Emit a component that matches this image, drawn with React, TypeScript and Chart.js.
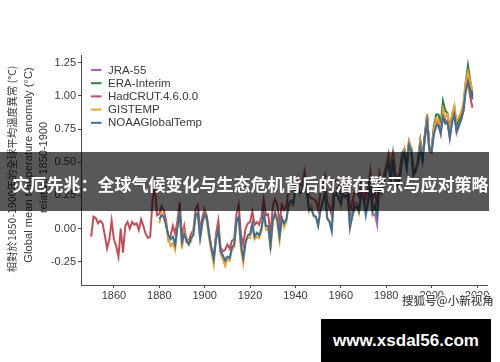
import React, { useEffect, useRef } from 'react';
import { Chart, registerables } from 'chart.js';

Chart.register(...registerables);

// ---- data (anomaly °C relative to 1850-1900) ----
const SERIES_LABELS = ['JRA-55', 'ERA-Interim', 'HadCRUT.4.6.0.0', 'GISTEMP', 'NOAAGlobalTemp'];
const SERIES_COLORS = ['#ad62b5', '#2e7b3a', '#c04e58', '#eaa23a', '#3e6e92'];
const SERIES_ORDER = [4, 3, 2, 1, 0];

const JRA55_START = 1958;
const JRA55 = [
  0.30, 0.31,
  0.24, 0.30, 0.28, 0.34, 0.08, 0.12, 0.20, 0.19, 0.16, 0.28,
  0.25, 0.14, 0.19, 0.33, 0.10, 0.11, 0.03, 0.36, 0.30, 0.38,
  0.46, 0.52, 0.36, 0.55, 0.38, 0.34, 0.40, 0.55, 0.56, 0.45,
  0.62, 0.58, 0.40, 0.43, 0.50, 0.64, 0.52, 0.69, 0.84, 0.58,
  0.57, 0.73, 0.79, 0.78, 0.71, 0.87, 0.81, 0.80, 0.68, 0.81,
  0.88, 0.72, 0.77, 0.84, 0.88, 1.06, 1.16, 1.06, 0.97,
];

const ERA_START = 1979;
const ERA_INTERIM = [
  0.40,
  0.46, 0.53, 0.38, 0.56, 0.40, 0.37, 0.42, 0.57, 0.60, 0.47,
  0.64, 0.61, 0.41, 0.45, 0.52, 0.66, 0.55, 0.70, 0.86, 0.60,
  0.60, 0.77, 0.86, 0.86, 0.79, 0.96, 0.89, 0.87, 0.75, 0.86,
  0.92, 0.78, 0.82, 0.87, 0.92, 1.10, 1.23, 1.12, 1.00,
];

const HADCRUT_START = 1850;
const HADCRUT = [
  -0.06, 0.09, 0.08, 0.04, 0.06, 0.04, -0.05, -0.15, -0.08, 0.06,
  -0.08, -0.13, -0.21, 0.00, -0.18, 0.02, 0.05, 0.00, 0.05, 0.03,
  0.04, -0.01, 0.07, 0.02, -0.04, -0.07, -0.06, 0.21, 0.33, 0.10,
  0.11, 0.17, 0.14, 0.06, -0.08, -0.05, 0.02, -0.04, 0.06, 0.20,
  -0.06, 0.02, -0.10, -0.09, -0.04, -0.01, 0.15, 0.18, -0.02, 0.09,
  0.15, 0.09, -0.04, -0.15, -0.21, -0.04, 0.06, -0.14, -0.17, -0.16,
  -0.12, -0.15, -0.09, -0.08, 0.11, 0.18, -0.05, -0.12, 0.00, 0.04,
  0.05, 0.13, 0.03, 0.05, 0.03, 0.09, 0.22, 0.10, 0.11, -0.05,
  0.17, 0.22, 0.18, 0.04, 0.18, 0.14, 0.17, 0.30, 0.31, 0.29,
  0.37, 0.35, 0.33, 0.33, 0.43, 0.32, 0.24, 0.23, 0.22, 0.21,
  0.14, 0.27, 0.32, 0.39, 0.20, 0.16, 0.10, 0.35, 0.36, 0.35,
  0.28, 0.36, 0.35, 0.37, 0.12, 0.20, 0.27, 0.28, 0.24, 0.36,
  0.31, 0.23, 0.31, 0.43, 0.22, 0.28, 0.18, 0.42, 0.35, 0.40,
  0.48, 0.56, 0.41, 0.59, 0.41, 0.38, 0.42, 0.54, 0.59, 0.48,
  0.66, 0.61, 0.43, 0.46, 0.50, 0.66, 0.53, 0.70, 0.85, 0.61,
  0.60, 0.75, 0.80, 0.81, 0.76, 0.86, 0.82, 0.80, 0.71, 0.82,
  0.87, 0.74, 0.78, 0.82, 0.89, 1.07, 1.11, 0.99, 0.91,
];

const GISTEMP_START = 1880;
const GISTEMP = [
  0.04, 0.12, 0.09, 0.03, -0.08, -0.13, -0.11, -0.16, 0.03, 0.10,
  -0.15, -0.02, -0.07, -0.11, -0.10, -0.02, 0.09, 0.09, -0.07, 0.03,
  0.12, 0.05, -0.08, -0.17, -0.27, -0.06, -0.02, -0.19, -0.23, -0.28,
  -0.23, -0.24, -0.16, -0.14, 0.05, 0.06, -0.16, -0.26, -0.09, -0.07,
  -0.07, 0.01, -0.08, -0.06, -0.07, -0.02, 0.10, -0.01, 0.00, -0.16,
  0.04, 0.11, 0.04, -0.09, 0.08, 0.01, 0.05, 0.18, 0.18, 0.17,
  0.32, 0.38, 0.26, 0.29, 0.40, 0.29, 0.13, 0.17, 0.09, 0.09,
  0.03, 0.13, 0.21, 0.28, 0.07, 0.06, 0.01, 0.25, 0.26, 0.23,
  0.17, 0.26, 0.23, 0.25, 0.00, 0.09, 0.14, 0.18, 0.12, 0.25,
  0.23, 0.12, 0.21, 0.36, 0.13, 0.19, 0.10, 0.38, 0.27, 0.36,
  0.46, 0.52, 0.34, 0.51, 0.36, 0.32, 0.38, 0.53, 0.60, 0.47,
  0.65, 0.61, 0.42, 0.44, 0.51, 0.65, 0.53, 0.66, 0.86, 0.58,
  0.59, 0.74, 0.83, 0.82, 0.73, 0.90, 0.84, 0.86, 0.74, 0.85,
  0.92, 0.81, 0.84, 0.88, 0.95, 1.10, 1.18, 1.11, 1.04,
];

const NOAA_START = 1880;
const NOAA = [
  0.07, 0.10, 0.09, 0.02, -0.05, -0.08, -0.06, -0.12, 0.01, 0.12,
  -0.10, -0.04, -0.09, -0.12, -0.07, -0.05, 0.10, 0.12, -0.07, 0.05,
  0.11, 0.07, -0.05, -0.15, -0.23, -0.08, -0.01, -0.17, -0.20, -0.24,
  -0.21, -0.22, -0.14, -0.12, 0.05, 0.09, -0.12, -0.22, -0.11, -0.05,
  -0.04, 0.04, -0.06, -0.03, -0.05, 0.00, 0.12, 0.02, 0.02, -0.13,
  0.06, 0.12, 0.07, -0.06, 0.08, 0.04, 0.07, 0.19, 0.21, 0.19,
  0.30, 0.34, 0.27, 0.28, 0.39, 0.27, 0.14, 0.15, 0.10, 0.09,
  0.02, 0.14, 0.20, 0.27, 0.08, 0.05, -0.02, 0.24, 0.27, 0.23,
  0.19, 0.26, 0.24, 0.26, 0.01, 0.09, 0.16, 0.17, 0.13, 0.27,
  0.22, 0.10, 0.20, 0.34, 0.13, 0.17, 0.09, 0.36, 0.28, 0.36,
  0.44, 0.50, 0.35, 0.52, 0.35, 0.32, 0.38, 0.52, 0.57, 0.46,
  0.63, 0.59, 0.41, 0.44, 0.49, 0.62, 0.51, 0.68, 0.80, 0.59,
  0.58, 0.71, 0.77, 0.78, 0.72, 0.84, 0.79, 0.80, 0.69, 0.80,
  0.86, 0.74, 0.78, 0.82, 0.89, 1.03, 1.10, 1.04, 0.98,
];

const X_TICKS = [1860, 1880, 1900, 1920, 1940, 1960, 1980, 2000, 2020];
const Y_TICKS = [-0.25, 0, 0.25, 0.5, 0.75, 1, 1.25];
const X_MIN = 1845.5;
const X_MAX = 2024.4;
const Y_MIN = -0.424;
const Y_MAX = 1.307;

const Y_TITLE_ZH = '相對於1850-1900年的全球平均溫度異常 (°C)';
const Y_TITLE_EN = 'Global mean temperature anomaly (°C)';
const Y_TITLE_EN2 = 'relative 1850-1900';
const BANNER_TEXT = '灾厄先兆：全球气候变化与生态危机背后的潜在警示与应对策略';
const WATERMARK = '搜狐号@小新视角';
const SITE = 'www.xsdal56.com';

const SERIES_DATA = [
  { start: JRA55_START, values: JRA55 },
  { start: ERA_START, values: ERA_INTERIM },
  { start: HADCRUT_START, values: HADCRUT },
  { start: GISTEMP_START, values: GISTEMP },
  { start: NOAA_START, values: NOAA },
];

const AXIS_COLOR = '#4d4d4d';
const TEXT_COLOR = '#383838';
const SANS = '"Liberation Sans", Arial, Helvetica, sans-serif';

const decorPlugin = {
  id: 'decor',
  afterDraw(chart: any) {
    const ctx = chart.ctx as CanvasRenderingContext2D;
    ctx.save();
    // legend
    ctx.textBaseline = 'middle';
    ctx.textAlign = 'left';
    ctx.font = `11.5px ${SANS}`;
    SERIES_LABELS.forEach((label, i) => {
      const y = 70 + i * 13.2;
      ctx.strokeStyle = SERIES_COLORS[i];
      ctx.lineWidth = 2;
      ctx.beginPath();
      ctx.moveTo(91, y);
      ctx.lineTo(101.5, y);
      ctx.stroke();
      ctx.fillStyle = TEXT_COLOR;
      ctx.fillText(label, 108, y + 0.5);
    });
    // y-axis titles
    const drawRot = (text: string, x: number, y: number, font: string) => {
      ctx.save();
      ctx.translate(x, y);
      ctx.rotate(-Math.PI / 2);
      ctx.font = font;
      ctx.textAlign = 'center';
      ctx.textBaseline = 'middle';
      ctx.fillStyle = TEXT_COLOR;
      ctx.fillText(text, 0, 0);
      ctx.restore();
    };
    drawRot(Y_TITLE_ZH, 12.5, 169, `10.5px "Noto Sans CJK TC", "Noto Sans CJK SC", sans-serif`);
    drawRot(Y_TITLE_EN, 28.5, 165, `11.2px ${SANS}`);
    drawRot(Y_TITLE_EN2, 43.5, 167.5, `11px ${SANS}`);
    ctx.restore();
  },
};

export default function App() {
  const canvasRef = useRef<HTMLCanvasElement>(null);

  useEffect(() => {
    const canvas = canvasRef.current;
    if (!canvas) return;
    const datasets = SERIES_DATA.map((s, i) => ({
      label: SERIES_LABELS[i],
      data: s.values.map((v, k) => ({ x: s.start + k, y: v })),
      borderColor: SERIES_COLORS[i],
      backgroundColor: SERIES_COLORS[i],
      borderWidth: 2,
      pointRadius: 0,
      tension: 0,
      fill: false,
      order: SERIES_ORDER[i],
    }));
    const chart = new Chart(canvas, {
      type: 'line',
      data: { datasets },
      plugins: [decorPlugin],
      options: {
        animation: false,
        responsive: false,
        devicePixelRatio: 1,
        layout: { padding: { left: 0, top: 55, right: 13, bottom: 57 } },
        plugins: {
          legend: { display: false },
          tooltip: { enabled: false },
          title: { display: false },
        },
        scales: {
          x: {
            type: 'linear',
            min: X_MIN,
            max: X_MAX,
            afterFit: (s: any) => {
              s.height = 20;
            },
            afterBuildTicks: (s: any) => {
              s.ticks = X_TICKS.map((v) => ({ value: v }));
            },
            grid: {
              display: true,
              drawOnChartArea: false,
              drawTicks: true,
              tickLength: 3,
              color: AXIS_COLOR,
            },
            border: { display: true, color: AXIS_COLOR, width: 1 },
            ticks: {
              autoSkip: false,
              maxRotation: 0,
              padding: 1,
              color: TEXT_COLOR,
              font: { family: SANS, size: 11 },
              callback: (v: any) => String(v),
            },
          },
          y: {
            type: 'linear',
            min: Y_MIN,
            max: Y_MAX,
            afterFit: (s: any) => {
              s.width = 81;
            },
            afterBuildTicks: (s: any) => {
              s.ticks = Y_TICKS.map((v) => ({ value: v }));
            },
            grid: {
              display: true,
              drawOnChartArea: false,
              drawTicks: true,
              tickLength: 3,
              color: AXIS_COLOR,
            },
            border: { display: true, color: AXIS_COLOR, width: 1 },
            ticks: {
              padding: 2,
              color: TEXT_COLOR,
              font: { family: SANS, size: 11 },
              callback: (v: any) => Number(v).toFixed(2),
            },
          },
        },
      },
    } as any);
    return () => chart.destroy();
  }, []);

  return (
    <div
      style={{
        position: 'fixed',
        left: 0,
        top: 0,
        width: 500,
        height: 362,
        background: '#ffffff',
        overflow: 'hidden',
      }}
    >
      <canvas
        ref={canvasRef}
        width={500}
        height={362}
        style={{ display: 'block', width: 500, height: 362 }}
      />
      <div
        style={{
          position: 'absolute',
          left: 0,
          top: 152,
          width: 489,
          height: 59,
          background: 'rgba(0,0,0,0.655)',
        }}
      >
        <div
          style={{
            position: 'absolute',
            left: 12.5,
            top: 23,
            fontFamily: '"Noto Sans CJK SC", sans-serif',
            fontWeight: 700,
            fontSize: 17,
            lineHeight: '17px',
            color: '#ffffff',
            whiteSpace: 'nowrap',
          }}
        >
          {BANNER_TEXT}
        </div>
      </div>
      <div
        style={{
          position: 'absolute',
          left: 402,
          top: 293,
          fontFamily: '"Noto Sans CJK SC", sans-serif',
          fontWeight: 500,
          fontSize: 11.5,
          lineHeight: '14px',
          color: '#4a4a4a',
          whiteSpace: 'nowrap',
          textShadow:
            '1px 0 0 #fff, -1px 0 0 #fff, 0 1px 0 #fff, 0 -1px 0 #fff',
        }}
      >
        {WATERMARK}
      </div>
      <div
        style={{
          position: 'absolute',
          left: 321,
          top: 319,
          width: 170,
          height: 43,
          background: '#000000',
          color: '#ffffff',
          fontFamily: SANS,
          fontWeight: 700,
          fontSize: 17,
          lineHeight: '43px',
          textAlign: 'center',
          whiteSpace: 'nowrap',
        }}
      >
        {SITE}
      </div>
    </div>
  );
}
